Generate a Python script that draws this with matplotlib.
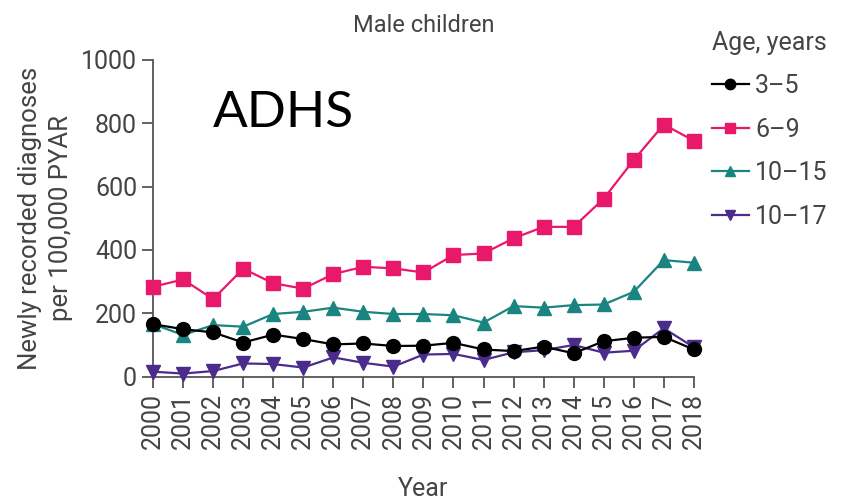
import matplotlib.pyplot as plt

# yearly values
years = list(range(2000, 2019))
age_3_5 = [166, 150, 140, 108, 133, 119, 102, 105, 97, 98, 107, 86, 81, 95, 74, 112, 123, 126, 86]
age_6_9 = [284, 307, 245, 341, 295, 278, 324, 347, 342, 329, 384, 389, 437, 473, 473, 562, 684, 796, 745]
age_10_15 = [166, 132, 163, 158, 198, 205, 218, 205, 198, 198, 194, 171, 223, 218, 226, 228, 268, 368, 360]
age_10_17 = [16, 10, 18, 42, 40, 29, 61, 44, 32, 70, 72, 53, 77, 84, 100, 76, 82, 153, 93]
labels = ['3\u20135', '6\u20139', '10\u201315', '10\u201317']

plt.rcParams['font.family'] = ['Roboto', 'DejaVu Sans']
txt = '#444444'

fig = plt.figure(figsize=(8.41, 4.99), dpi=100)
ax = fig.add_axes([0.182, 0.245, 0.643, 0.635])

ax.plot(years, age_3_5, color='black', marker='o', ms=10, lw=1.6, label=labels[0], clip_on=False, zorder=5)
ax.plot(years, age_6_9, color='#E8196B', marker='s', ms=10, lw=1.6, label=labels[1], clip_on=False, zorder=3)
ax.plot(years, age_10_15, color='#1A8580', marker='^', ms=10, lw=1.6, label=labels[2], clip_on=False, zorder=4)
ax.plot(years, age_10_17, color='#4B2C8C', marker='v', ms=10, lw=1.6, label=labels[3], clip_on=False, zorder=4)

ax.set_xlim(2000, 2018)
ax.set_ylim(0, 1000)
ax.set_xticks(years)
ax.set_xticklabels([str(y) for y in years], rotation=90)
ax.set_yticks(range(0, 1001, 200))
for s in ['top', 'right']:
    ax.spines[s].set_visible(False)
for s in ['left', 'bottom']:
    ax.spines[s].set_color('#555555')
    ax.spines[s].set_linewidth(1.3)
ax.tick_params(colors='#555555', labelcolor=txt, labelsize=18, length=8, width=1.3)

ax.set_ylabel('Newly recorded diagnoses\nper 100,000 PYAR', fontsize=18.5, color=txt,
              linespacing=1.35, labelpad=6)
ax.set_xlabel('Year', fontsize=18, color=txt, labelpad=20)
ax.set_title('Male children', fontsize=17, color=txt, pad=20)

ax.text(0.11, 0.833, 'ADHS', transform=ax.transAxes, fontsize=37, family=['Lato', 'DejaVu Sans'],
        color='black', va='center', ha='left')

leg = ax.legend(loc='upper left', bbox_to_anchor=(1.005, 1.14), frameon=False,
                title='Age, years', fontsize=18, title_fontsize=18, handlelength=1.5,
                handletextpad=0.25, labelspacing=0.78, markerscale=0.75, alignment='left',
                borderaxespad=0.2)
for t in leg.get_texts():
    t.set_color(txt)
leg.get_title().set_color(txt)

fig.savefig('out.png', dpi=100)
